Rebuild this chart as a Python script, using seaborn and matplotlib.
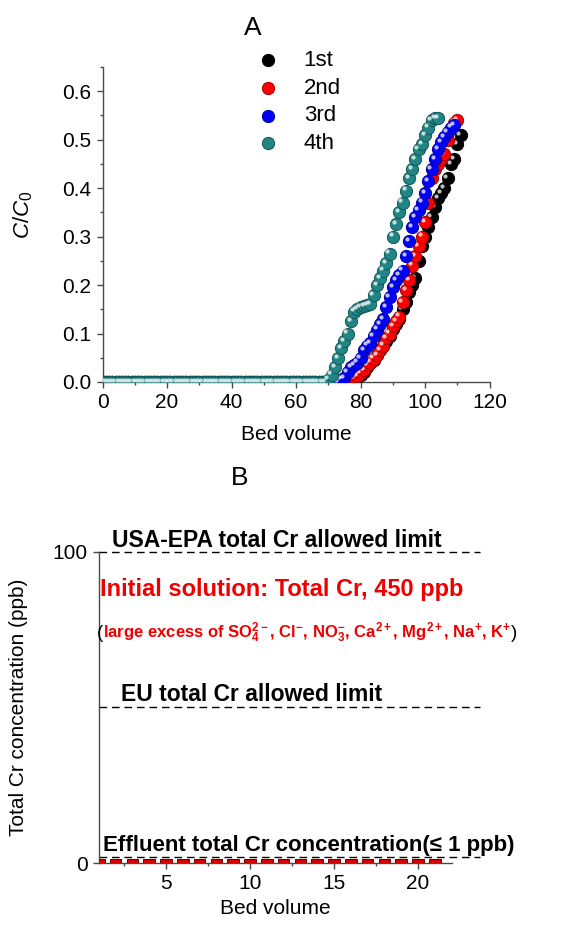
import matplotlib
matplotlib.use("Agg")
import matplotlib.pyplot as plt
import matplotlib.transforms as mtransforms
from matplotlib.ticker import MultipleLocator
import pandas as pd
import seaborn as sns

# ---- Panel A: breakthrough curves, C/C0 vs bed volume, four cycles ----
runs = ["1st", "2nd", "3rd", "4th"]
run_colors = ["#000000", "#ff0000", "#0000ff", "#218585"]
run_edges = ["#000000", "#a00000", "#00009a", "#125656"]

bv_1st = list(range(0, 112))
cc0_1st = [0.0] * 78 + [0.005, 0.01, 0.015, 0.02, 0.03, 0.04, 0.045, 0.055, 0.065, 0.075,
                        0.085, 0.095, 0.11, 0.12, 0.13, 0.15, 0.165, 0.185, 0.20, 0.215,
                        0.25, 0.28, 0.30, 0.32, 0.34, 0.36, 0.38, 0.39, 0.40, 0.42,
                        0.45, 0.46, 0.49, 0.51]

bv_2nd = list(range(0, 111))
cc0_2nd = [0.0] * 77 + [0.005, 0.008, 0.012, 0.018, 0.025, 0.035, 0.04, 0.048, 0.055, 0.065,
                        0.075, 0.09, 0.10, 0.115, 0.125, 0.135, 0.165, 0.19, 0.21, 0.24,
                        0.26, 0.28, 0.30, 0.33, 0.37, 0.42, 0.44, 0.45, 0.46, 0.47,
                        0.50, 0.525, 0.535, 0.54]

bv_3rd = list(range(0, 110))
cc0_3rd = [0.0] * 74 + [0.005, 0.008, 0.02, 0.03, 0.035, 0.04, 0.05, 0.065, 0.075, 0.08,
                        0.095, 0.108, 0.12, 0.13, 0.155, 0.175, 0.195, 0.21, 0.22, 0.23,
                        0.26, 0.29, 0.32, 0.34, 0.355, 0.37, 0.39, 0.415, 0.44, 0.46,
                        0.48, 0.495, 0.505, 0.515, 0.525, 0.53]

bv_4th = list(range(0, 105))
cc0_4th = [0.0] * 70 + [0.005, 0.015, 0.03, 0.05, 0.07, 0.085, 0.10, 0.125, 0.145, 0.15,
                        0.155, 0.157, 0.159, 0.16, 0.18, 0.20, 0.215, 0.23, 0.245, 0.265,
                        0.30, 0.325, 0.35, 0.37, 0.395, 0.42, 0.44, 0.46, 0.48, 0.49,
                        0.51, 0.525, 0.54, 0.545, 0.545]

# ---- Panel B: effluent total Cr vs bed volume ----
bv_b = list(range(1, 22))
effluent_ppb = [1.2, 1.2, 1.2, 1.2, 1.2, 1.2, 1.2, 1.2, 1.2, 1.2, 1.2,
                1.2, 1.2, 1.2, 1.2, 1.2, 1.2, 1.2, 1.2, 1.2, 1.2]
usa_epa_limit = 100
eu_limit = 50
effluent_level = 2

sns.set_style("ticks")
plt.rcParams["font.family"] = ["Liberation Sans", "DejaVu Sans"]
plt.rcParams["mathtext.fontset"] = "custom"
plt.rcParams["mathtext.rm"] = "Liberation Sans"
plt.rcParams["mathtext.it"] = "Liberation Sans:italic"
plt.rcParams["mathtext.bf"] = "Liberation Sans:bold"
plt.rcParams["text.color"] = "black"
plt.rcParams["axes.labelcolor"] = "black"
plt.rcParams["xtick.labelcolor"] = "black"
plt.rcParams["ytick.labelcolor"] = "black"

spine_col = "#4a4a4a"

fig = plt.figure(figsize=(5.7, 9.26), dpi=100)
axA = fig.add_axes([0.180, 0.5875, 0.679, 0.3402])
axB = fig.add_axes([0.1733, 0.068, 0.619, 0.3362])

# panel A
df = pd.concat([
    pd.DataFrame({"bv": bv_1st, "cc0": cc0_1st, "run": "1st"}),
    pd.DataFrame({"bv": bv_2nd, "cc0": cc0_2nd, "run": "2nd"}),
    pd.DataFrame({"bv": bv_3rd, "cc0": cc0_3rd, "run": "3rd"}),
    pd.DataFrame({"bv": bv_4th, "cc0": cc0_4th, "run": "4th"}),
])

shine = axA.transData + mtransforms.ScaledTranslation(-1.6 / 72, 1.6 / 72, fig.dpi_scale_trans)
for run, col, edge in zip(runs, run_colors, run_edges):
    sub = df[df["run"] == run]
    sns.scatterplot(data=sub, x="bv", y="cc0", color=col, edgecolor=edge, linewidth=0.7,
                    s=78, label=run, ax=axA, zorder=3)
    # little highlight so the dots look like spheres
    axA.scatter(sub["bv"], sub["cc0"], s=9, color="white", alpha=0.75, linewidths=0,
                transform=shine, zorder=3)

axA.set_xlim(0, 120)
axA.set_ylim(0, 0.65)
axA.xaxis.set_major_locator(MultipleLocator(20))
axA.xaxis.set_minor_locator(MultipleLocator(10))
axA.yaxis.set_major_locator(MultipleLocator(0.1))
axA.yaxis.set_minor_locator(MultipleLocator(0.05))
axA.yaxis.set_major_formatter(matplotlib.ticker.FormatStrFormatter("%.1f"))
axA.set_xlabel("Bed volume", fontsize=15)
axA.set_ylabel("$C/C_0$", fontsize=16)
axA.xaxis.set_label_coords(0.5, -0.135)
axA.yaxis.set_label_coords(-0.175, 0.53)

handles, labels = axA.get_legend_handles_labels()
axA.legend(handles[:4], labels[:4], loc="upper left", frameon=False, fontsize=16,
           bbox_to_anchor=(257 / 570, 1 - 50 / 926), bbox_transform=fig.transFigure,
           borderpad=0, borderaxespad=0, handlelength=1.0, handletextpad=1.1,
           labelspacing=0.3, scatterpoints=1)

fig.text(252.5 / 570, 1 - 28 / 926, "A", fontsize=19, ha="center", va="center")

# panel B
axB.bar(bv_b, effluent_ppb, width=0.7, color="#d60000", edgecolor="#6a0000",
        linewidth=0.7, zorder=3)
for lvl in [usa_epa_limit, eu_limit, effluent_level]:
    axB.axhline(lvl, xmin=0, xmax=1.08, color="black", lw=1.0,
                ls=(0, (5.5, 3.5)), clip_on=False, zorder=2)

axB.set_xlim(1, 22)
axB.set_ylim(0, 100)
axB.set_xticks([5, 10, 15, 20])
axB.xaxis.set_minor_locator(MultipleLocator(2.5))
axB.set_yticks([0, 100])
axB.set_xlabel("Bed volume", fontsize=15)
axB.set_ylabel("Total Cr concentration (ppb)", fontsize=15)
axB.xaxis.set_label_coords(0.5, -0.116)
axB.yaxis.set_label_coords(-0.2, 0.5)

axB.text(1.8, 101.5, "USA-EPA total Cr allowed limit", fontsize=16.5, fontweight="bold",
         va="baseline")
axB.text(2.35, 52.0, "EU total Cr allowed limit", fontsize=16.5, fontweight="bold",
         va="baseline")
axB.text(1.25, 3.9, "Effluent total Cr concentration(\u2264 1 ppb)", fontsize=16,
         fontweight="bold", va="baseline")
axB.text(1.1, 85.8, "Initial solution: Total Cr, 450 ppb", fontsize=17,
         fontweight="bold", color="#ee0000", va="baseline")
ions = (r"large excess of SO$_\mathbf{4}^\mathbf{2-}$, Cl$^\mathbf{-}$, NO$_\mathbf{3}^\mathbf{-}$, "
        r"Ca$^\mathbf{2+}$, Mg$^\mathbf{2+}$, Na$^\mathbf{+}$, K$^\mathbf{+}$")
t_ions = axB.text(1.25, 72.2, ions, fontsize=12, fontweight="bold", color="#ee0000",
                  va="baseline")
axB.annotate("(", xy=(0, 0.5), xycoords=t_ions, ha="right", va="center", fontsize=13.5)
axB.annotate(")", xy=(1, 0.5), xycoords=t_ions, ha="left", va="center", fontsize=13.5)

fig.text(240 / 570, 1 - 478 / 926, "B", fontsize=19, ha="center", va="center")

for ax in (axA, axB):
    sns.despine(ax=ax)
    for side in ("left", "bottom"):
        ax.spines[side].set_color(spine_col)
        ax.spines[side].set_linewidth(1.0)
    ax.tick_params(which="major", direction="out", length=4, width=1.0, color=spine_col,
                   labelsize=15, pad=4)
    ax.tick_params(which="minor", direction="out", length=2.5, width=1.0, color=spine_col)

fig.savefig("out.png", dpi=100)
